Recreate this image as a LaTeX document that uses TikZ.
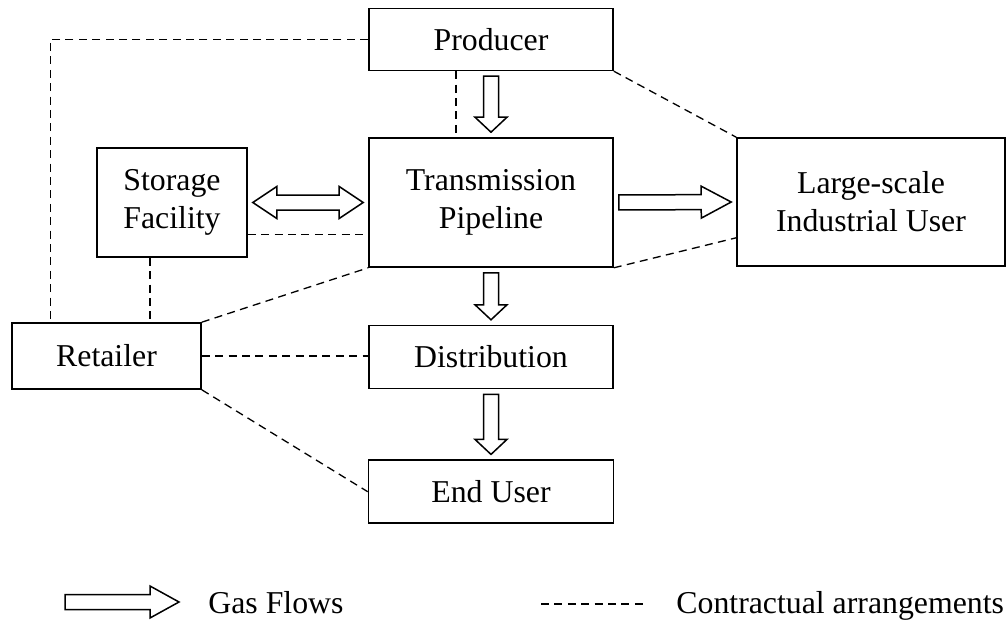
\documentclass[tikz,border=0pt]{standalone}
\usepackage{fontspec}
\setmainfont{Liberation Serif}
\usetikzlibrary{calc, positioning}

\newcommand{\gasflow}[3][7.5pt]{%
  \path ($(#2)!2.5pt!(#3)$) coordinate (fa) ($(#3)!2.5pt!(#2)$) coordinate (fb);
  \path ($(fb)!#1!(fa)$) coordinate (fh);
  \draw[flow] ($(fa)!3.75pt!90:(fb)$) -- ($(fh)!3.75pt!90:(fb)$) -- ($(fh)!8pt!90:(fb)$) -- (fb)
    -- ($(fh)!8pt!-90:(fb)$) -- ($(fh)!3.75pt!-90:(fb)$) -- ($(fa)!3.75pt!-90:(fb)$) -- cycle;}

\newcommand{\gasflowboth}[3][12pt]{%
  \path ($(#2)!2.5pt!(#3)$) coordinate (fa) ($(#3)!2.5pt!(#2)$) coordinate (fb);
  \path ($(fa)!#1!(fb)$) coordinate (fha) ($(fb)!#1!(fa)$) coordinate (fhb);
  \draw[flow] (fa) -- ($(fha)!8pt!90:(fb)$) -- ($(fha)!3.75pt!90:(fb)$) -- ($(fhb)!3.75pt!90:(fb)$)
    -- ($(fhb)!8pt!90:(fb)$) -- (fb) -- ($(fhb)!8pt!-90:(fb)$) -- ($(fhb)!3.75pt!-90:(fb)$)
    -- ($(fha)!3.75pt!-90:(fb)$) -- ($(fha)!8pt!-90:(fb)$) -- cycle;}

\begin{document}
\begin{tikzpicture}[
x=0.5pt, y=-0.5pt,
box/.style={draw, rectangle,
line width=0.8pt,
inner sep=0pt,
align=center,
font=\fontsize{15.9}{19}\selectfont},
contract/.style={line width=0.65pt, dash pattern=on 4pt off 2.7pt},
flow/.style={draw, line width=0.75pt, fill=white, line join=miter},
legend/.style={inner sep=0pt, font=\fontsize{15.9}{19}\selectfont}
]
\useasboundingbox (0,0) rectangle (1008,621);

\node[box, minimum width=122pt, minimum height=64.5pt] (trans) at (491,202.5) {Transmission\\Pipeline};
\node[box, minimum width=122pt, minimum height=31pt, above=33pt of trans] (prod) {Producer};
\node[box, minimum width=122pt, minimum height=31.5pt, below=28.5pt of trans] (distr) {Distribution};
\node[box, minimum width=122.5pt, minimum height=31.5pt, below=35pt of distr] (enduser) {End User};
\node[box, minimum width=75pt, minimum height=54.5pt] (store) at (172,202.5) {Storage\\Facility};
\node[box, minimum width=134pt, minimum height=64pt] (indus) at (871,202) {Large-scale\\Industrial User};
\node[box, minimum width=94.5pt, minimum height=33pt] (retail) at (106.5,356) {Retailer};

\coordinate (retailcorner) at ($(retail.north west)+(39,0)$);
\coordinate (storeside) at ($(store.south east)+(0,-23)$);
\coordinate (storefoot) at ($(store.south)+(-22,0)$);
\coordinate (prodfoot) at ($(prod.south)+(-35,0)$);
\coordinate (indusside) at ($(indus.south west)+(0,-29)$);

\draw[contract] (prod.west) -| (retailcorner);
\draw[contract] (prodfoot) -- (prodfoot |- trans.north);
\draw[contract] (prod.south east) -- (indus.north west);
\draw[contract] (storeside) -- (storeside -| trans.west);
\draw[contract] (storefoot) -- (storefoot |- retail.north);
\draw[contract] (retail.north east) -- (trans.south west);
\draw[contract] (retail.east) -- (retail.east -| distr.west);
\draw[contract] (retail.south east) -- (enduser.west);
\draw[contract] (trans.south east) -- (indusside);

\gasflow{prod.south}{trans.north}
\gasflow{trans.south}{distr.north}
\gasflow{distr.south}{enduser.north}
\gasflow[15pt]{trans.east}{indus.west}
\gasflowboth[12pt]{store.east}{trans.west}

\coordinate (flowkeyA) at (60,602);
\coordinate (flowkeyB) at (184,602);
\gasflow[14.5pt]{flowkeyA}{flowkeyB}
\node[legend, anchor=base west] (flowkey) at (208,613) {Gas Flows};

\coordinate (dashkeyA) at (541,604);
\coordinate (dashkeyB) at (644,604);
\draw[contract] (dashkeyA) -- (dashkeyB);
\node[legend, anchor=base west] (dashkey) at (676,613) {Contractual arrangements};

\end{tikzpicture}
\end{document}
